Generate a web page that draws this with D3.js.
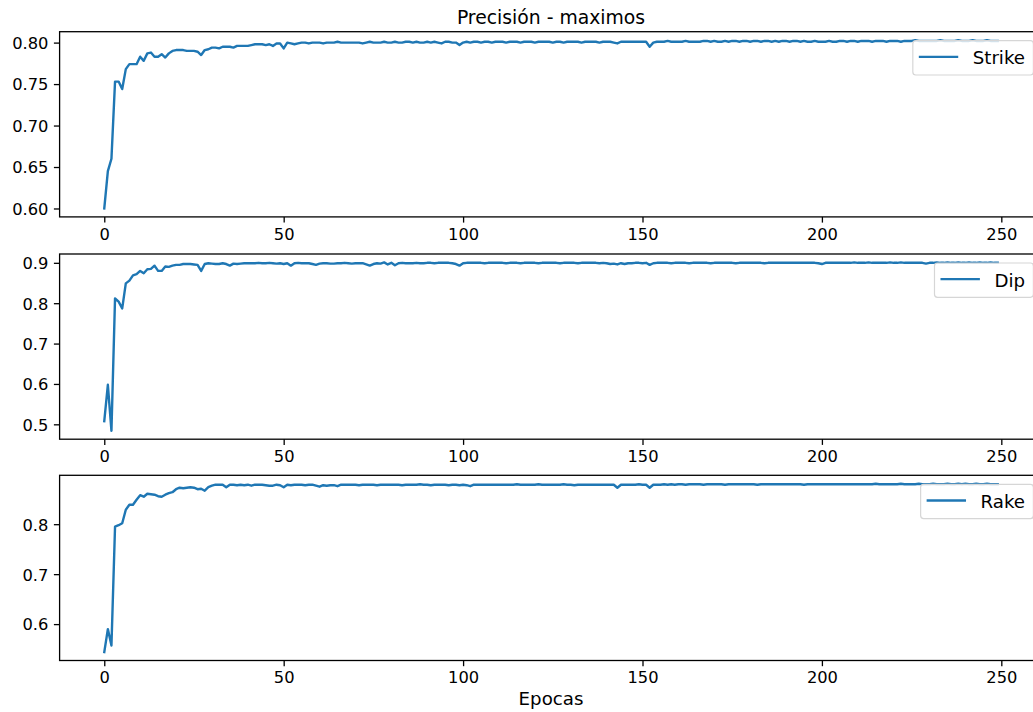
<!DOCTYPE html>
<html>
<head>
<meta charset="utf-8">
<script src="https://cdn.jsdelivr.net/npm/d3@7"></script>
<style>
  html, body { margin: 0; padding: 0; background: #fff; }
  svg { display: block; font-family: "DejaVu Sans", sans-serif; }
</style>
</head>
<body>
<svg id="chart" width="1033" height="712"></svg>
<script>
const title = "Precisión - maximos";
const xLabel = "Epocas";
const seriesNames = ["Strike", "Dip", "Rake"];
const xTicks = [0, 50, 100, 150, 200, 250];
const strikeTicks = [0.60, 0.65, 0.70, 0.75, 0.80];
const dipTicks = [0.5, 0.6, 0.7, 0.8, 0.9];
const rakeTicks = [0.6, 0.7, 0.8];

const strike = [
0.600,0.645,0.660,0.753,0.753,0.744,0.768,0.774,0.774,0.774,
0.783,0.778,0.787,0.788,0.783,0.783,0.786,0.782,0.787,0.790,
0.791,0.791,0.791,0.790,0.790,0.790,0.789,0.785,0.791,0.792,
0.794,0.794,0.793,0.795,0.795,0.795,0.794,0.796,0.796,0.796,
0.796,0.797,0.798,0.798,0.798,0.797,0.798,0.796,0.799,0.799,
0.793,0.800,0.799,0.798,0.799,0.800,0.800,0.799,0.800,0.800,
0.800,0.799,0.800,0.800,0.800,0.801,0.800,0.800,0.800,0.800,
0.800,0.800,0.799,0.800,0.801,0.800,0.800,0.800,0.801,0.800,
0.800,0.801,0.800,0.800,0.801,0.801,0.800,0.801,0.800,0.800,
0.801,0.800,0.801,0.800,0.799,0.801,0.801,0.800,0.800,0.797,
0.800,0.801,0.800,0.801,0.801,0.800,0.801,0.801,0.800,0.801,
0.801,0.801,0.800,0.801,0.801,0.801,0.800,0.801,0.801,0.801,
0.800,0.801,0.801,0.801,0.801,0.800,0.801,0.801,0.800,0.801,
0.801,0.801,0.801,0.800,0.801,0.801,0.801,0.801,0.800,0.801,
0.801,0.801,0.800,0.799,0.801,0.801,0.801,0.801,0.801,0.801,
0.801,0.801,0.795,0.800,0.801,0.801,0.801,0.802,0.801,0.801,
0.801,0.801,0.802,0.801,0.801,0.801,0.801,0.802,0.802,0.801,
0.802,0.801,0.801,0.802,0.801,0.802,0.802,0.801,0.802,0.802,
0.801,0.802,0.802,0.801,0.802,0.802,0.801,0.802,0.801,0.802,
0.802,0.801,0.802,0.802,0.801,0.802,0.801,0.801,0.802,0.801,
0.801,0.801,0.802,0.801,0.801,0.802,0.802,0.801,0.802,0.802,
0.801,0.802,0.802,0.802,0.801,0.802,0.802,0.802,0.801,0.802,
0.802,0.802,0.801,0.802,0.802,0.802,0.803,0.802,0.802,0.802,
0.802,0.802,0.802,0.803,0.802,0.802,0.802,0.802,0.803,0.802,
0.802,0.802,0.803,0.802,0.802,0.802,0.803,0.802,0.802,0.802
];

const dip = [
0.508,0.598,0.484,0.812,0.804,0.787,0.849,0.856,0.869,0.872,
0.880,0.874,0.884,0.885,0.893,0.880,0.880,0.891,0.890,0.893,
0.895,0.895,0.897,0.897,0.897,0.896,0.895,0.880,0.897,0.899,
0.898,0.897,0.897,0.899,0.897,0.893,0.898,0.897,0.898,0.899,
0.899,0.899,0.899,0.900,0.899,0.899,0.900,0.899,0.898,0.899,
0.897,0.899,0.893,0.899,0.900,0.899,0.899,0.899,0.897,0.895,
0.898,0.899,0.899,0.898,0.898,0.899,0.899,0.900,0.899,0.898,
0.899,0.899,0.899,0.896,0.893,0.897,0.899,0.898,0.901,0.896,
0.900,0.894,0.899,0.900,0.899,0.899,0.899,0.900,0.899,0.899,
0.900,0.900,0.899,0.900,0.900,0.900,0.900,0.899,0.897,0.893,
0.899,0.900,0.900,0.900,0.900,0.900,0.899,0.900,0.900,0.900,
0.900,0.900,0.899,0.900,0.900,0.900,0.899,0.900,0.900,0.900,
0.900,0.899,0.900,0.900,0.900,0.900,0.900,0.899,0.900,0.900,
0.900,0.900,0.899,0.900,0.900,0.900,0.900,0.900,0.899,0.900,
0.899,0.897,0.898,0.896,0.899,0.897,0.899,0.899,0.900,0.900,
0.899,0.900,0.895,0.899,0.900,0.900,0.900,0.900,0.899,0.900,
0.900,0.900,0.900,0.899,0.900,0.900,0.900,0.900,0.900,0.899,
0.900,0.900,0.900,0.900,0.900,0.900,0.899,0.900,0.900,0.900,
0.900,0.900,0.900,0.900,0.899,0.900,0.900,0.900,0.900,0.900,
0.900,0.900,0.900,0.900,0.900,0.900,0.900,0.900,0.900,0.899,
0.897,0.900,0.900,0.900,0.900,0.900,0.900,0.900,0.900,0.901,
0.900,0.900,0.900,0.901,0.900,0.900,0.900,0.900,0.900,0.901,
0.900,0.900,0.901,0.900,0.900,0.900,0.900,0.900,0.900,0.898,
0.900,0.900,0.901,0.900,0.900,0.901,0.900,0.900,0.901,0.900,
0.900,0.901,0.900,0.900,0.901,0.900,0.900,0.901,0.900,0.900
];

const rake = [
0.544,0.590,0.557,0.795,0.798,0.802,0.829,0.839,0.839,0.849,
0.858,0.855,0.861,0.860,0.859,0.856,0.855,0.859,0.862,0.864,
0.870,0.873,0.872,0.873,0.874,0.873,0.870,0.871,0.867,0.874,
0.877,0.879,0.879,0.879,0.874,0.879,0.879,0.878,0.879,0.878,
0.879,0.877,0.879,0.879,0.879,0.878,0.877,0.877,0.879,0.878,
0.874,0.879,0.878,0.879,0.879,0.879,0.878,0.879,0.879,0.877,
0.875,0.878,0.877,0.878,0.878,0.876,0.879,0.879,0.879,0.879,
0.879,0.878,0.879,0.879,0.879,0.879,0.878,0.879,0.879,0.879,
0.879,0.879,0.879,0.878,0.879,0.879,0.879,0.879,0.880,0.879,
0.879,0.878,0.879,0.879,0.879,0.879,0.878,0.879,0.879,0.878,
0.879,0.878,0.876,0.879,0.879,0.879,0.879,0.879,0.879,0.879,
0.879,0.879,0.879,0.879,0.879,0.880,0.879,0.879,0.879,0.879,
0.879,0.880,0.879,0.879,0.879,0.879,0.879,0.879,0.880,0.879,
0.879,0.878,0.879,0.879,0.879,0.879,0.879,0.879,0.879,0.879,
0.879,0.879,0.879,0.873,0.879,0.879,0.879,0.879,0.879,0.880,
0.879,0.879,0.873,0.879,0.879,0.879,0.880,0.879,0.880,0.879,
0.880,0.880,0.879,0.880,0.880,0.880,0.880,0.879,0.880,0.880,
0.880,0.880,0.880,0.879,0.880,0.880,0.880,0.880,0.880,0.880,
0.880,0.880,0.879,0.880,0.880,0.880,0.880,0.880,0.880,0.880,
0.880,0.880,0.880,0.880,0.880,0.879,0.880,0.880,0.880,0.880,
0.880,0.880,0.880,0.880,0.880,0.880,0.880,0.880,0.880,0.880,
0.880,0.880,0.880,0.880,0.880,0.881,0.880,0.880,0.880,0.880,
0.880,0.880,0.881,0.880,0.880,0.880,0.880,0.881,0.880,0.880,
0.880,0.881,0.880,0.880,0.880,0.881,0.880,0.880,0.881,0.880,
0.881,0.880,0.880,0.881,0.880,0.880,0.881,0.880,0.880,0.880
];

const seriesValues = [strike, dip, rake];
const yTicksList = [strikeTicks, dipTicks, rakeTicks];
const yFormats = [".2f", ".1f", ".1f"];

// ---- layout ----
const W = 1033, H = 712;
const axLeft = 59.6, axRight = 1042.4;
const axTops = [31.7, 254.0, 475.3];
const axH = 185.2;
const color = "#1f77b4";
const tickFont = 16.3, legendFont = 18.2, labelFont = 18.2, titleFont = 18.8;
const tickLen = 5.7;

const svg = d3.select("#chart");
svg.append("rect").attr("width", W).attr("height", H).attr("fill", "#fff");

const n = strike.length;
const x = d3.scaleLinear()
  .domain([0 - 0.05 * (n - 1), (n - 1) * 1.05])
  .range([axLeft, axRight]);

seriesValues.forEach((vals, i) => {
  const top = axTops[i], bottom = top + axH;
  const [mn, mx] = d3.extent(vals);
  const pad = (mx - mn) * 0.05;
  const y = d3.scaleLinear().domain([mn - pad, mx + pad]).range([bottom, top]);

  const g = svg.append("g");
  const clipId = "clip" + i;
  svg.append("clipPath").attr("id", clipId)
    .append("rect").attr("x", axLeft).attr("y", top).attr("width", axRight - axLeft).attr("height", axH);

  // line
  const line = d3.line().x((d, j) => x(j)).y(d => y(d));
  g.append("path")
    .datum(vals)
    .attr("clip-path", `url(#${clipId})`)
    .attr("fill", "none")
    .attr("stroke", color)
    .attr("stroke-width", 2.4)
    .attr("stroke-linejoin", "round")
    .attr("stroke-linecap", "square")
    .attr("d", line);

  // x axis
  const xAxis = d3.axisBottom(x).tickValues(xTicks).tickSize(tickLen).tickPadding(5.5).tickSizeOuter(0).tickFormat(d3.format("d"));
  const gx = g.append("g").attr("transform", `translate(0,${bottom})`).call(xAxis);
  gx.select(".domain").remove();
  gx.selectAll(".tick line").attr("stroke", "#000").attr("stroke-width", 1.3);
  gx.selectAll(".tick text").attr("font-size", tickFont).attr("fill", "#000")
    .attr("font-family", "DejaVu Sans").attr("dy", "0.72em");

  // y axis
  const yAxis = d3.axisLeft(y).tickValues(yTicksList[i]).tickSize(tickLen).tickPadding(5.5).tickSizeOuter(0).tickFormat(d3.format(yFormats[i]));
  const gy = g.append("g").attr("transform", `translate(${axLeft},0)`).call(yAxis);
  gy.select(".domain").remove();
  gy.selectAll(".tick line").attr("stroke", "#000").attr("stroke-width", 1.3);
  gy.selectAll(".tick text").attr("font-size", tickFont).attr("fill", "#000")
    .attr("font-family", "DejaVu Sans").attr("dy", "0.36em");

  // frame
  g.append("rect")
    .attr("x", axLeft).attr("y", top).attr("width", axRight - axLeft).attr("height", axH)
    .attr("fill", "none").attr("stroke", "#000").attr("stroke-width", 1.3);

  // legend
  const lg = svg.append("g");
  const txt = lg.append("text")
    .attr("font-size", legendFont).attr("font-family", "DejaVu Sans").attr("fill", "#000")
    .text(seriesNames[i]);
  const tw = txt.node().getComputedTextLength();
  const boxRight = axRight - 9;
  const boxW = 6 + 39.4 + 14.5 + tw + 8.4;
  const boxLeft = boxRight - boxW;
  const boxTop = top + 9;
  const boxH = 34.3;
  lg.insert("rect", "text")
    .attr("x", boxLeft).attr("y", boxTop).attr("width", boxW).attr("height", boxH)
    .attr("rx", 3).attr("ry", 3)
    .attr("fill", "#fff").attr("fill-opacity", 0.8)
    .attr("stroke", "#d6d6d6").attr("stroke-width", 1.2);
  lg.insert("line", "text")
    .attr("x1", boxLeft + 6).attr("x2", boxLeft + 6 + 39.4)
    .attr("y1", boxTop + boxH / 2 - 1).attr("y2", boxTop + boxH / 2 - 1)
    .attr("stroke", color).attr("stroke-width", 2.4);
  txt.attr("x", boxLeft + 6 + 39.4 + 14.5).attr("y", boxTop + boxH / 2 + 0.36 * legendFont);
});

// title
svg.append("text")
  .attr("x", (axLeft + axRight) / 2).attr("y", 24)
  .attr("text-anchor", "middle")
  .attr("font-size", titleFont).attr("font-family", "DejaVu Sans").attr("fill", "#000")
  .text(title);

// x label
svg.append("text")
  .attr("x", (axLeft + axRight) / 2).attr("y", 705)
  .attr("text-anchor", "middle")
  .attr("font-size", labelFont).attr("font-family", "DejaVu Sans").attr("fill", "#000")
  .text(xLabel);
</script>
</body>
</html>
